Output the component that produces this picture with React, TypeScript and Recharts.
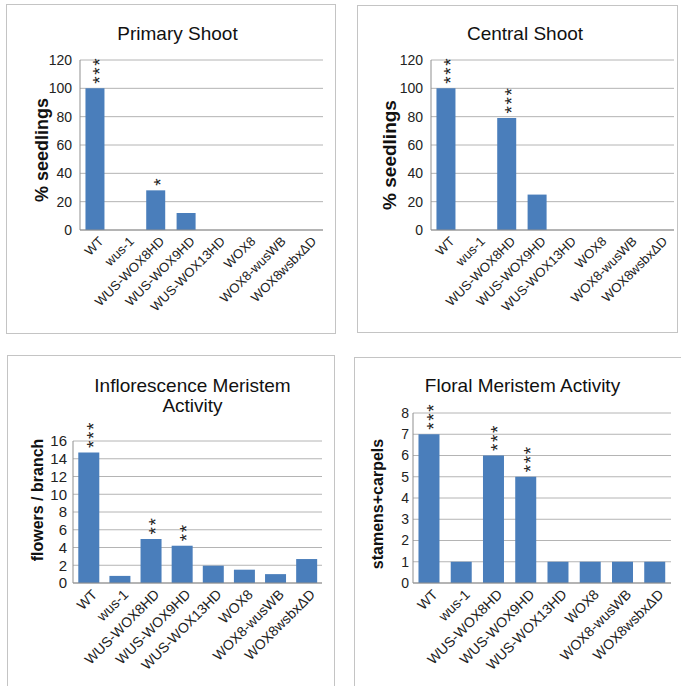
import React from "react";
import { BarChart, Bar, XAxis, YAxis, CartesianGrid, LabelList } from "recharts";

const genotypes = [
  "WT",
  "wus-1",
  "WUS-WOX8HD",
  "WUS-WOX9HD",
  "WUS-WOX13HD",
  "WOX8",
  "WOX8-wusWB",
  "WOX8wsbxΔD",
];

const primaryShoot = [100, 0, 28, 12, 0, 0, 0, 0];
const primaryStars = ["***", "", "*", "", "", "", "", ""];

const centralShoot = [100, 0, 79, 25, 0, 0, 0, 0];
const centralStars = ["***", "", "***", "", "", "", "", ""];

const inflorescence = [14.7, 0.8, 4.95, 4.2, 1.95, 1.5, 1, 2.7];
const inflorescenceStars = ["***", "", "**", "**", "", "", "", ""];

const floral = [7, 1, 6, 5, 1, 1, 1, 1];
const floralStars = ["***", "", "***", "***", "", "", "", ""];

const shootTicks = [0, 20, 40, 60, 80, 100, 120];
const inflorescenceTicks = [0, 2, 4, 6, 8, 10, 12, 14, 16];
const floralTicks = [0, 1, 2, 3, 4, 5, 6, 7, 8];

const FONT = '"Liberation Sans", Arial, Helvetica, sans-serif';
const BAR = "#4a7ebb";
const GRID = "#b4b4b4";
const AXIS = "#8f8f8f";

const toRows = (values: number[], stars: string[]) =>
  genotypes.map((name, i) => ({ name, value: values[i], stars: stars[i] }));

// significance stars, stacked upward above the bar (one text turned on its side)
const Stars = (props: any) => {
  const s = String(props.value || "");
  if (!s) return null;
  const fs = 19;
  const cx = Number(props.x) + Number(props.width) / 2 + 0.575 * fs;
  const y0 = Number(props.y) - 4.5;
  return (
    <text
      x={cx}
      y={y0}
      transform={`rotate(-90 ${cx} ${y0})`}
      textAnchor="start"
      fontSize={fs}
      letterSpacing={1.6}
      fontFamily={FONT}
      fill="#222"
    >
      {s}
    </text>
  );
};

const SlantTick = (props: any) => {
  const { x, y, payload, fontSize } = props;
  const ax = Number(x) + 6;
  const ay = Number(y) + 9;
  return (
    <text
      x={ax}
      y={ay}
      dy="0.35em"
      transform={`rotate(-45 ${ax} ${ay})`}
      textAnchor="end"
      fontSize={fontSize}
      fontFamily={FONT}
      fill="#222"
    >
      {payload.value}
    </text>
  );
};

type Box = { x: number; y: number; w: number; h: number };
type Plot = { x0: number; x1: number; y0: number; y1: number };

type PanelProps = {
  box: Box;
  plot: Plot;
  title: string[];
  titleAt: [number, number];
  yLabel: string;
  yLabelAt: [number, number];
  yLabelSize: number;
  values: number[];
  stars: string[];
  ticks: number[];
  tickSize: number;
  tickGap: number;
  xFont: number;
  gap: string;
};

const Panel = (p: PanelProps) => {
  const { box, plot } = p;
  const rows = toRows(p.values, p.stars);
  const maxTick = p.ticks[p.ticks.length - 1];
  return (
    <div style={{ position: "absolute", left: box.x, top: box.y, width: box.w, height: box.h }}>
      <div
        style={{
          position: "absolute",
          inset: 0,
          border: "1px solid #c4c4c4",
          boxSizing: "border-box",
        }}
      />
      <div style={{ position: "absolute", left: 0, top: 0 }}>
        <BarChart
          width={box.w}
          height={box.h}
          data={rows}
          margin={{ top: plot.y0 - box.y, right: box.x + box.w - plot.x1, left: 0, bottom: 0 }}
          barCategoryGap={p.gap}
        >
          <CartesianGrid vertical={false} stroke={GRID} />
          <XAxis
            dataKey="name"
            interval={0}
            height={box.y + box.h - plot.y1}
            axisLine={{ stroke: AXIS }}
            tickLine={false}
            tickSize={0}
            tickMargin={0}
            tick={(t: any) => <SlantTick {...t} fontSize={p.xFont} />}
          />
          <YAxis
            width={plot.x0 - box.x}
            domain={[0, maxTick]}
            ticks={p.ticks}
            interval={0}
            axisLine={{ stroke: AXIS }}
            tickLine={false}
            tickSize={0}
            tickMargin={p.tickGap}
            tick={{ fontSize: p.tickSize, fill: "#222", fontFamily: FONT }}
            label={{
              content: () => (
                <text
                  x={p.yLabelAt[0]}
                  y={p.yLabelAt[1]}
                  transform={`rotate(-90 ${p.yLabelAt[0]} ${p.yLabelAt[1]})`}
                  textAnchor="middle"
                  dominantBaseline="central"
                  fontSize={p.yLabelSize}
                  fontWeight="bold"
                  fontFamily={FONT}
                  fill="#111"
                >
                  {p.yLabel}
                </text>
              ),
            }}
          />
          <Bar dataKey="value" fill={BAR} isAnimationActive={false}>
            <LabelList dataKey="stars" content={(l: any) => <Stars {...l} />} />
          </Bar>
        </BarChart>
      </div>
      <svg
        width={box.w}
        height={box.h}
        style={{ position: "absolute", left: 0, top: 0, pointerEvents: "none" }}
      >
        {p.title.map((line, i) => (
          <text
            key={line}
            x={p.titleAt[0]}
            y={p.titleAt[1] + i * 20}
            textAnchor="middle"
            fontSize={19}
            fontFamily={FONT}
            fill="#111"
          >
            {line}
          </text>
        ))}
      </svg>
    </div>
  );
};

export default function App() {
  return (
    <div
      style={{
        position: "absolute",
        left: 0,
        top: 0,
        width: 681,
        height: 686,
        overflow: "hidden",
        background: "#fff",
      }}
    >
      <Panel
        box={{ x: 6, y: 4, w: 330, h: 330 }}
        plot={{ x0: 80, x1: 323, y0: 60, y1: 230 }}
        title={["Primary Shoot"]}
        titleAt={[171.5, 36]}
        yLabel="% seedlings"
        yLabelAt={[36, 146]}
        yLabelSize={18}
        values={primaryShoot}
        stars={primaryStars}
        ticks={shootTicks}
        tickSize={14}
        tickGap={8}
        xFont={13}
        gap="18%"
      />
      <Panel
        box={{ x: 357, y: 5, w: 321, h: 328 }}
        plot={{ x0: 431, x1: 674, y0: 60, y1: 230 }}
        title={["Central Shoot"]}
        titleAt={[168, 35]}
        yLabel="% seedlings"
        yLabelAt={[32, 150]}
        yLabelSize={19}
        values={centralShoot}
        stars={centralStars}
        ticks={shootTicks}
        tickSize={14}
        tickGap={8}
        xFont={13}
        gap="18%"
      />
      <Panel
        box={{ x: 7, y: 355, w: 328, h: 340 }}
        plot={{ x0: 73, x1: 322, y0: 441, y1: 583 }}
        title={["Inflorescence Meristem", "Activity"]}
        titleAt={[185.5, 36.7]}
        yLabel="flowers / branch"
        yLabelAt={[30.5, 145]}
        yLabelSize={16}
        values={inflorescence}
        stars={inflorescenceStars}
        ticks={inflorescenceTicks}
        tickSize={15}
        tickGap={6}
        xFont={14}
        gap="17%"
      />
      <Panel
        box={{ x: 354, y: 357, w: 340, h: 338 }}
        plot={{ x0: 413, x1: 671, y0: 413, y1: 583 }}
        title={["Floral Meristem Activity"]}
        titleAt={[168.5, 35]}
        yLabel="stamens+carpels"
        yLabelAt={[23.5, 147]}
        yLabelSize={16}
        values={floral}
        stars={floralStars}
        ticks={floralTicks}
        tickSize={14}
        tickGap={4}
        xFont={14}
        gap="17%"
      />
    </div>
  );
}
